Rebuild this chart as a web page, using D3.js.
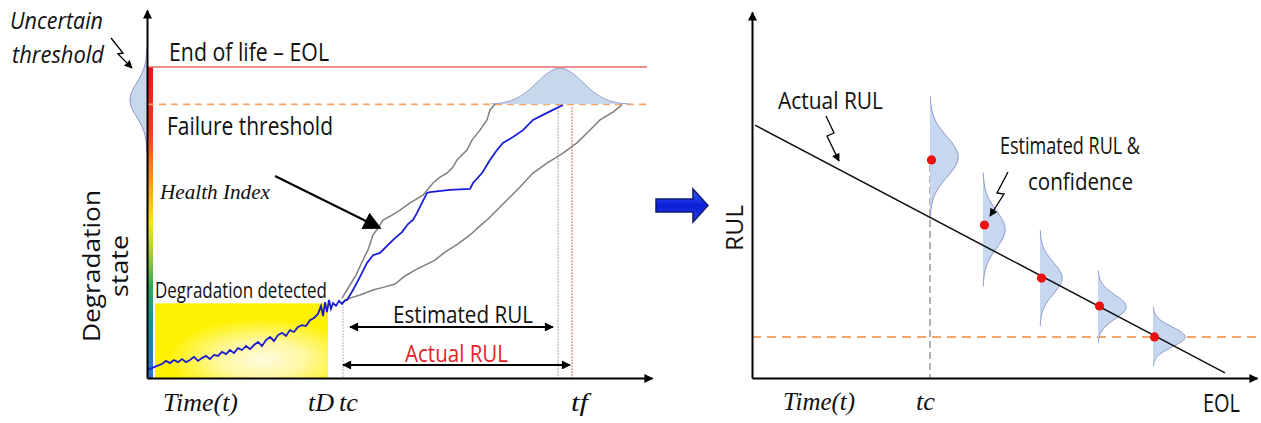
<!DOCTYPE html>
<html><head><meta charset="utf-8">
<script src="https://cdn.jsdelivr.net/npm/d3@7"></script>
<style>body{margin:0;background:#fff} svg{display:block}</style>
</head><body><svg id="c" width="1261" height="423"></svg>
<script>
// ---------------- data (left panel: degradation index 0..100, time 0..100) ----------------
const thresholdNames = ["End of life – EOL", "Failure threshold"];
const thresholdValues = [100, 88];
const detectedLevel = 24;
const timeMarkNames = ["tD", "tc", "tf"];
const timeMarkValues = [36.2, 39.2, 85];
const estimatedTf = 82.2;
const healthBefore = [[0,2.6],[1,3.2],[2,3.9],[3,4.5],[3.8,5.5],[4.6,4.8],[5.4,5.8],[6.2,5.1],[7,6.1],[7.8,5.1],[8.6,5.8],[9.4,6.8],[10.2,5.5],[11,6.4],[11.8,7.1],[12.6,6.1],[13.4,7.4],[14.2,7.1],[15,8.4],[15.8,7.7],[16.6,9.0],[17.4,8.0],[18.2,9.6],[19,9.0],[19.8,10.3],[20.6,9.3],[21.4,10.6],[22.2,11.6],[23,10.3],[23.8,12.2],[24.6,13.2],[25.4,11.9],[26.2,13.8],[27,14.5],[27.8,13.5],[28.6,15.4],[29.4,14.8],[30.2,16.4],[31,17.0],[31.8,16.7],[32.6,18.6],[33.4,19.3],[34.2,20.6],[34.8,23.2],[35.2,19.9],[35.6,24.4],[36,21.2],[36.4,25.1],[36.8,22.2],[37.2,24.1],[37.8,23.2],[38.4,24.8],[39,23.8],[39.6,25.1]];
const healthAfter = [[39.6,25.1],[40,25.1],[41.2,28.3],[42.6,32.5],[44,37],[45.2,39.5],[46.6,40.2],[48.2,42.8],[49.6,45],[51,46.9],[52.2,49.5],[53.2,50.8],[54,53.1],[55,56.3],[56,59.5],[56.6,59.8],[60.6,60.5],[64.6,60.8],[65.2,62.7],[67,65.9],[68.6,70.1],[70,73.3],[71.2,75.6],[73.2,77.5],[75.2,79.7],[77.2,83],[79.2,84.6],[81.2,86.2],[83.2,87.8]];
const upperBound = [[39,25.7],[40.6,29.9],[41.8,33.1],[43,37.3],[44.2,41.2],[45.2,46],[46.2,48.2],[47.2,50.8],[49,52.4],[50.6,54],[52.6,56.3],[55.2,58.8],[57.2,62.7],[58.6,64.6],[60,65.9],[61.2,67.8],[62,70.1],[64,73.3],[65,76.5],[66.6,79.7],[68,83],[68.6,86.2],[69.6,88.1]];
const lowerBound = [[39,24.1],[40.6,25.7],[42.6,26.7],[45.2,28.3],[47.6,29.3],[49.6,30.2],[51.6,32.8],[53.6,34.7],[55.6,36.3],[57.6,37.9],[59.6,40.5],[62.2,43.1],[64.6,46],[66.6,48.9],[68,50.8],[70.6,55],[72.6,58.2],[74.6,61.4],[77.2,65.9],[80,69.1],[83.2,72.3],[86,75.6],[88,78.8],[89.2,80.7],[90.6,83],[93.2,85.5],[95,87.8]];
// failure-time distribution (mean, sd, peak height) and threshold uncertainty (mean, sd, peak width)
const failureDist = [82.6, 4.6, 11.6];
const thresholdDist = [89.4, 5.5, 3.4];

// ---------------- data (right panel: RUL 0..100, time 0..100) ----------------
const actualRUL = [[0.6, 84.3], [94.6, 1.7]];
const rulThreshold = 13.7;
const tcRight = 35.6;
const estimateTimes = [35.6, 46.2, 57.6, 69.2, 80.2];
const estimateRUL = [72.7, 51, 33.3, 24, 13.7];
const estimateCenter = [73.7, 49.5, 33.3, 23.7, 13.7];
const estimateSD = [6.7, 6.3, 5.3, 4.0, 3.3];
const estimatePeak = [0.88, 0.69, 0.69, 0.88, 1.0];

// ---------------- drawing ----------------
const svg = d3.select("#c");
const SANS = "'Open Sans','Liberation Sans',sans-serif";
const SERIF = "'Liberation Serif','DejaVu Serif',serif";
const defs = svg.append("defs");

function marker(id, w, h, color) {
  defs.append("marker").attr("id", id).attr("viewBox", "0 0 10 10")
    .attr("refX", 9).attr("refY", 5).attr("markerUnits", "userSpaceOnUse")
    .attr("markerWidth", w).attr("markerHeight", h).attr("orient", "auto-start-reverse")
    .append("path").attr("d", "M0,0L10,5L0,10Z").attr("fill", color);
}
marker("axArrow", 9, 9, "#000");
marker("dblArrow", 13, 9, "#000");
marker("bigArrow", 22, 18, "#000");
marker("zArrow", 9, 8, "#000");

function label(g, s, x, y, o) {
  const t = g.append("text").text(s)
    .attr("font-family", o.family || SANS).attr("font-size", o.size)
    .attr("font-style", o.style || "normal").attr("fill", o.color || "#111")
    .attr("text-anchor", o.anchor || "start");
  if (o.len) t.attr("textLength", o.len).attr("lengthAdjust", "spacingAndGlyphs");
  if (o.rotate) t.attr("transform", `translate(${x},${y}) rotate(-90)`);
  else t.attr("x", x).attr("y", y);
  return t;
}

// ===== LEFT PANEL =====
const xL = d3.scaleLinear([0, 100], [147, 647]);
const yL = d3.scaleLinear([0, 100], [378, 67]);
const L = svg.append("g");

// colour bar gradient
const cg = defs.append("linearGradient").attr("id", "cbar").attr("x1", 0).attr("y1", 0).attr("x2", 0).attr("y2", 1);
[[0, "#e8141c"], [0.2, "#ef3a22"], [0.36, "#f7931e"], [0.5, "#f6e51b"], [0.6, "#a5cd39"], [0.7, "#3aa85a"], [0.82, "#14918f"], [1, "#2f6fd0"]]
  .forEach(([o, c]) => cg.append("stop").attr("offset", o).attr("stop-color", c));
// yellow detection area gradient
const yg = defs.append("radialGradient").attr("id", "ybox").attr("cx", 0.62).attr("cy", 0.75).attr("r", 0.55);
[[0, "#fffbe0"], [0.45, "#fff8a0"], [1, "#fff200"]].forEach(([o, c]) => yg.append("stop").attr("offset", o).attr("stop-color", c));

L.append("rect").attr("x", xL(1.6)).attr("y", yL(detectedLevel))
  .attr("width", xL(timeMarkValues[0]) - xL(1.6)).attr("height", yL(0) - yL(detectedLevel))
  .attr("fill", "url(#ybox)");
L.append("rect").attr("x", xL(0)).attr("y", yL(thresholdValues[0]))
  .attr("width", 6).attr("height", yL(0) - yL(thresholdValues[0])).attr("fill", "url(#cbar)");

// threshold uncertainty bell (left of axis)
const ks = d3.range(-3, 3.001, 0.1);
const [tm, ts, tp] = thresholdDist;
L.append("path").attr("d", d3.line()(ks.map(k => [xL(0) - (xL(tp) - xL(0)) * Math.exp(-k * k / 2), yL(tm + k * ts)])))
  .attr("fill", "#c7d7ec").attr("stroke", "#8d8fc9").attr("stroke-width", 1);

// thresholds
L.append("line").attr("x1", xL(0)).attr("x2", xL(100)).attr("y1", yL(thresholdValues[0])).attr("y2", yL(thresholdValues[0]))
  .attr("stroke", "#e36a6a").attr("stroke-width", 1.6);
L.append("line").attr("x1", xL(0)).attr("x2", xL(100)).attr("y1", yL(thresholdValues[1])).attr("y2", yL(thresholdValues[1]))
  .attr("stroke", "#f4a66a").attr("stroke-width", 1.8).attr("stroke-dasharray", "7,5");

// failure time distribution on top
const [fm, fs, fp] = failureDist;
L.append("path").attr("d", d3.line()(ks.map(k => [xL(fm + k * fs), yL(thresholdValues[1] + fp * Math.exp(-k * k / 2))])))
  .attr("fill", "#c7d7ec").attr("stroke", "#9b9ccc").attr("stroke-width", 1);

// vertical dotted lines
L.append("line").attr("x1", xL(timeMarkValues[1])).attr("x2", xL(timeMarkValues[1])).attr("y1", yL(detectedLevel)).attr("y2", yL(0))
  .attr("stroke", "#999").attr("stroke-width", 1).attr("stroke-dasharray", "1.5,1.5");
L.append("line").attr("x1", xL(estimatedTf)).attr("x2", xL(estimatedTf)).attr("y1", yL(thresholdValues[1])).attr("y2", yL(0))
  .attr("stroke", "#888").attr("stroke-width", 1).attr("stroke-dasharray", "1.5,1.5");
L.append("line").attr("x1", xL(timeMarkValues[2])).attr("x2", xL(timeMarkValues[2])).attr("y1", yL(thresholdValues[1] - 1)).attr("y2", yL(0))
  .attr("stroke", "#e03030").attr("stroke-width", 1).attr("stroke-dasharray", "1.5,1.5");

// bounds and health index
const lineL = d3.line().x(d => xL(d[0])).y(d => yL(d[1]));
L.append("path").attr("d", lineL(upperBound)).attr("fill", "none").attr("stroke", "#7f7f7f").attr("stroke-width", 1.5);
L.append("path").attr("d", lineL(lowerBound)).attr("fill", "none").attr("stroke", "#7f7f7f").attr("stroke-width", 1.5);
L.append("path").attr("d", lineL(healthBefore)).attr("fill", "none").attr("stroke", "#1c1ccf").attr("stroke-width", 1.8);
L.append("path").attr("d", lineL(healthAfter)).attr("fill", "none").attr("stroke", "#1c1cdc").attr("stroke-width", 1.8);

// axes
const axXL = d3.scaleLinear([0, 101], [147, 652]);
const axYL = d3.scaleLinear([0, 118.5], [378, 10]);
L.append("g").attr("transform", `translate(0,${yL(0)})`).call(d3.axisBottom(axXL).tickValues([]).tickSizeOuter(0))
  .call(g => g.select(".domain").attr("stroke-width", 2).attr("marker-end", "url(#axArrow)"));
L.append("g").attr("transform", `translate(${xL(0)},0)`).call(d3.axisLeft(axYL).tickValues([]).tickSizeOuter(0))
  .call(g => g.select(".domain").attr("stroke-width", 2).attr("marker-end", "url(#axArrow)"));

// RUL double arrows
L.append("line").attr("x1", xL(40.6)).attr("x2", xL(estimatedTf - 1)).attr("y1", yL(16.4)).attr("y2", yL(16.4))
  .attr("stroke", "#000").attr("stroke-width", 2).attr("marker-start", "url(#dblArrow)").attr("marker-end", "url(#dblArrow)");
L.append("line").attr("x1", xL(timeMarkValues[1])).attr("x2", xL(timeMarkValues[2] - 0.4)).attr("y1", yL(4.2)).attr("y2", yL(4.2))
  .attr("stroke", "#000").attr("stroke-width", 2).attr("marker-start", "url(#dblArrow)").attr("marker-end", "url(#dblArrow)");

// health index pointer
L.append("line").attr("x1", 275).attr("y1", 176).attr("x2", 380).attr("y2", 228)
  .attr("stroke", "#000").attr("stroke-width", 2).attr("marker-end", "url(#bigArrow)");
// lightning pointer "uncertain threshold"
L.append("path").attr("d", "M111,38L123,53L118,54L132,68").attr("fill", "none").attr("stroke", "#000").attr("stroke-width", 1.3)
  .attr("marker-end", "url(#zArrow)");

// texts left
label(L, "Uncertain", 10, 29, {size: 23, len: 93, style: "italic"});
label(L, "threshold", 12, 63, {size: 23, len: 92, style: "italic"});
label(L, thresholdNames[0], 169, 61, {size: 25, len: 160});
label(L, thresholdNames[1], 167, 135, {size: 25, len: 166});
label(L, "Health Index", 160, 199, {size: 21, len: 110, family: SERIF, style: "italic"});
label(L, "Degradation detected", 155, 298, {size: 21, len: 172});
label(L, "Degradation", 100, 266, {size: 23, len: 152, anchor: "middle", rotate: true});
label(L, "state", 128, 266, {size: 23, len: 62, anchor: "middle", rotate: true});
label(L, "Estimated RUL", 393, 323, {size: 24, len: 140});
label(L, "Actual RUL", 405, 362, {size: 24, len: 103, color: "#e8202a"});
label(L, "Time(t)", 163, 411, {size: 26, len: 75, family: SERIF, style: "italic"});
label(L, timeMarkNames[0], 308, 411, {size: 26, len: 26, family: SERIF, style: "italic"});
label(L, timeMarkNames[1], 339, 411, {size: 26, len: 19, family: SERIF, style: "italic"});
label(L, timeMarkNames[2], 571, 411, {size: 26, len: 17, family: SERIF, style: "italic"});

// ===== MIDDLE ARROW =====
const bg = defs.append("linearGradient").attr("id", "barrow").attr("x1", 0).attr("y1", 0).attr("x2", 0).attr("y2", 1);
[[0, "#3a5cff"], [0.5, "#0a1ed8"], [1, "#2a44e8"]].forEach(([o, c]) => bg.append("stop").attr("offset", o).attr("stop-color", c));
svg.append("path").attr("d", "M656,199L693,199L693,189L708,205.5L693,222L693,212L656,212Z")
  .attr("fill", "url(#barrow)").attr("stroke", "#101a70").attr("stroke-width", 1.5);

// ===== RIGHT PANEL =====
const xR = d3.scaleLinear([0, 100], [752, 1252]);
const yR = d3.scaleLinear([0, 100], [378, 78]);
const R = svg.append("g");

// threshold dashed
R.append("line").attr("x1", xR(0)).attr("x2", 1261).attr("y1", yR(rulThreshold)).attr("y2", yR(rulThreshold))
  .attr("stroke", "#f4a66a").attr("stroke-width", 2).attr("stroke-dasharray", "9,6");
// tc dashed
R.append("line").attr("x1", xR(tcRight)).attr("x2", xR(tcRight)).attr("y1", yR(71)).attr("y2", yR(0))
  .attr("stroke", "#999").attr("stroke-width", 1.5).attr("stroke-dasharray", "7,4");

// estimate distributions
const wR = d3.scaleLinear([0, 1], [0, 32]);
estimateTimes.forEach((t, i) => {
  const pts = ks.map(k => [xR(t) + wR(estimatePeak[i] * Math.exp(-k * k / 2)), yR(estimateCenter[i] + k * estimateSD[i])]);
  R.append("path").attr("d", d3.line()([[xR(t), pts[0][1]], ...pts, [xR(t), pts[pts.length - 1][1]]]))
    .attr("fill", "#c6d7ef").attr("stroke", "#8f97cb").attr("stroke-width", 1);
});

// actual RUL line
R.append("path").attr("d", d3.line().x(d => xR(d[0])).y(d => yR(d[1]))(actualRUL))
  .attr("fill", "none").attr("stroke", "#111").attr("stroke-width", 1.5);

// estimate dots
R.selectAll("circle.est").data(estimateTimes).join("circle").attr("class", "est")
  .attr("cx", (t, i) => xR(t) + 1.5).attr("cy", (t, i) => yR(estimateRUL[i])).attr("r", 4.6).attr("fill", "#ee1111");

// axes
const axXR = d3.scaleLinear([0, 101], [752, 1257]);
const axYR = d3.scaleLinear([0, 122], [378, 12]);
R.append("g").attr("transform", `translate(0,${yR(0)})`).call(d3.axisBottom(axXR).tickValues([]).tickSizeOuter(0))
  .call(g => g.select(".domain").attr("stroke-width", 2).attr("marker-end", "url(#axArrow)"));
R.append("g").attr("transform", `translate(${xR(0)},0)`).call(d3.axisLeft(axYR).tickValues([]).tickSizeOuter(0))
  .call(g => g.select(".domain").attr("stroke-width", 2).attr("marker-end", "url(#axArrow)"));

// lightning pointers
R.append("path").attr("d", "M826,116L834,133L827,136L839,161").attr("fill", "none").attr("stroke", "#000").attr("stroke-width", 1.3)
  .attr("marker-end", "url(#zArrow)");
R.append("path").attr("d", "M1008,172L997,193L1004,194L990,216").attr("fill", "none").attr("stroke", "#000").attr("stroke-width", 1.3)
  .attr("marker-end", "url(#zArrow)");

// texts right
label(R, "Actual RUL", 778, 109, {size: 24, len: 105});
label(R, "Estimated RUL &", 1000, 154, {size: 24, len: 140});
label(R, "confidence", 1028, 190, {size: 24, len: 105});
label(R, "RUL", 743, 228, {size: 23, len: 46, anchor: "middle", rotate: true});
label(R, "Time(t)", 783, 410, {size: 26, len: 72, family: SERIF, style: "italic"});
label(R, "tc", 916, 410, {size: 26, len: 19, family: SERIF, style: "italic"});
label(R, "EOL", 1203, 412, {size: 25, len: 37});
</script></body></html>
